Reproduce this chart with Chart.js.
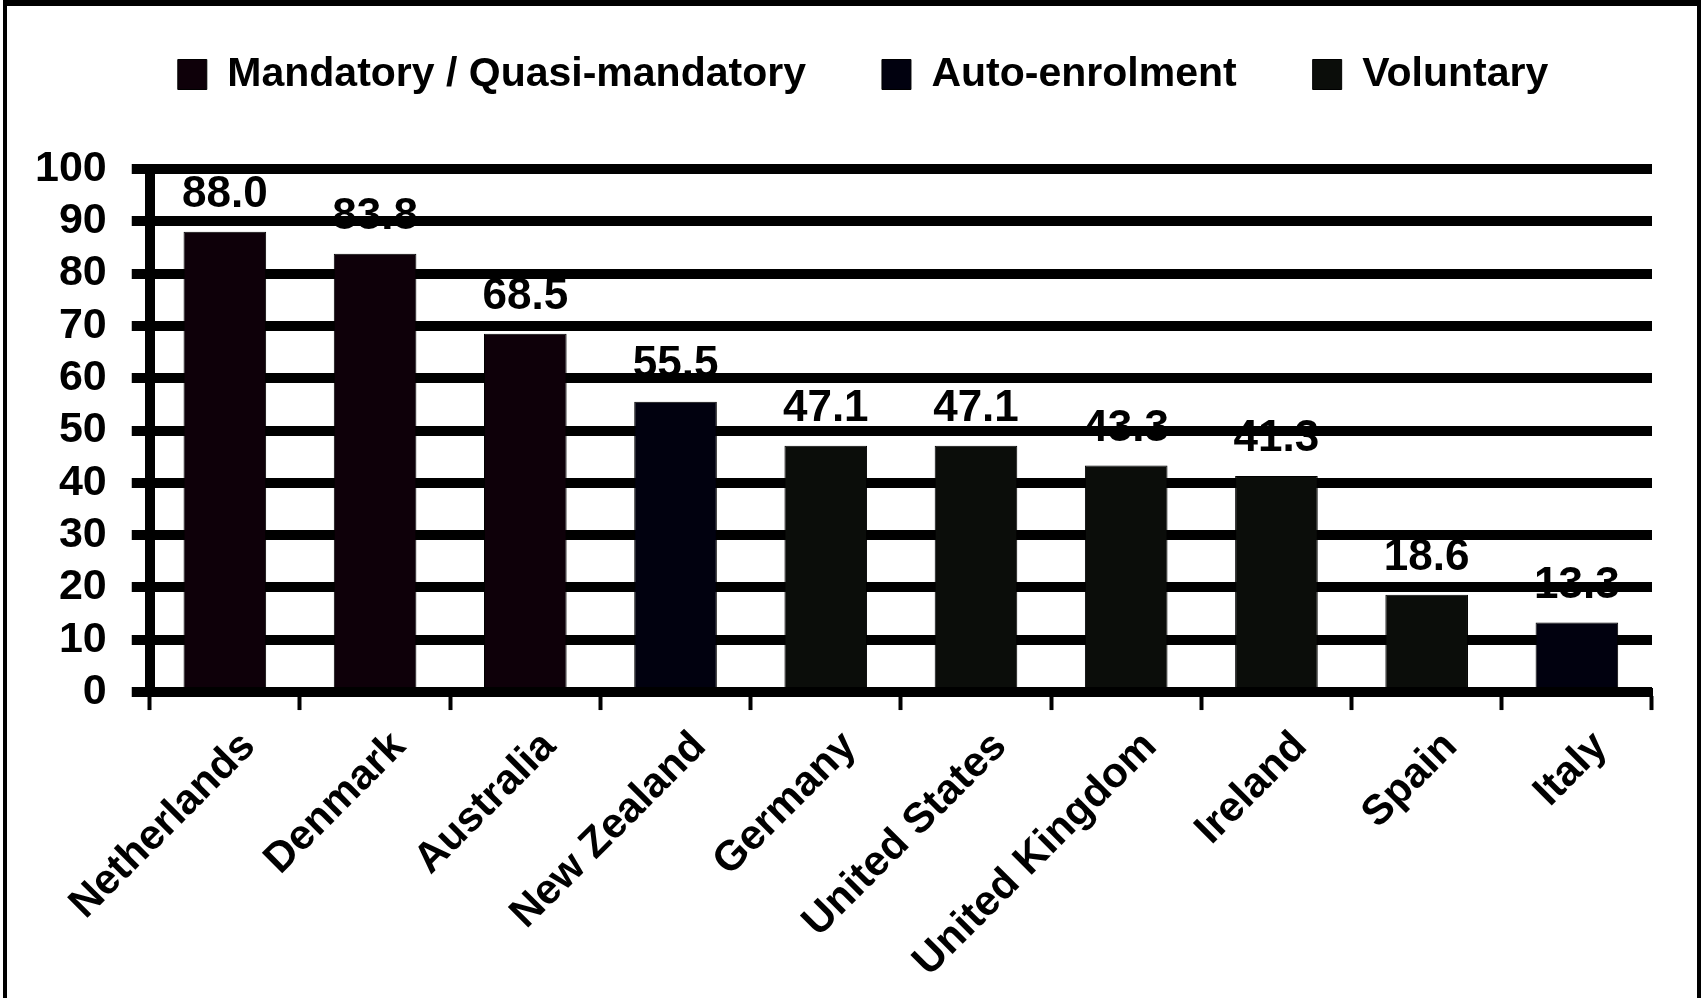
<!DOCTYPE html>
<html>
<head>
<meta charset="utf-8">
<title>Pension coverage by scheme type</title>
<script src="https://cdn.jsdelivr.net/npm/chart.js@4/dist/chart.umd.min.js"></script>
<style>
  html, body { margin: 0; padding: 0; background: #fff; }
  #wrap { position: relative; width: 1704px; height: 998px; overflow: hidden; }
  #coverage { position: absolute; left: 0; top: 0; }
  #frame {
    position: absolute; left: 3px; top: 0; right: 3px; bottom: -10px;
    border-top: 6px solid #000; border-left: 4px solid #000; border-right: 4px solid #000;
    pointer-events: none;
  }
</style>
</head>
<body>
<div id="wrap">
  <canvas id="coverage" width="1704" height="998"></canvas>
  <div id="frame"></div>
</div>
<script>
// coverage rate (% of working-age population) and the type of scheme in each country
const countries = ['Netherlands', 'Denmark', 'Australia', 'New Zealand', 'Germany',
  'United States', 'United Kingdom', 'Ireland', 'Spain', 'Italy'];
const coverage = [88.0, 83.8, 68.5, 55.5, 47.1, 47.1, 43.3, 41.3, 18.6, 13.3];
const scheme = ['mandatory', 'mandatory', 'mandatory', 'auto', 'voluntary',
  'voluntary', 'voluntary', 'voluntary', 'voluntary', 'auto'];

const schemeNames = ['Mandatory / Quasi-mandatory', 'Auto-enrolment', 'Voluntary'];
const schemeKeys = ['mandatory', 'auto', 'voluntary'];
const schemeColors = ['#0e0009', '#01010f', '#0b0d0a'];

const FONT = '"Liberation Sans", Arial, sans-serif';
Chart.defaults.font.family = FONT;
Chart.defaults.color = '#000';

// one dataset per scheme type, only filled where the country uses it
const datasets = schemeKeys.map((key, k) => ({
  label: schemeNames[k],
  data: coverage.map((v, i) => scheme[i] === key ? v : null),
  backgroundColor: schemeColors[k],
  borderColor: '#000',
  borderWidth: 1,
  grouped: false,
  barPercentage: 0.55,
  categoryPercentage: 1
}));

// value printed above each bar
const valueLabels = {
  id: 'valueLabels',
  afterDatasetsDraw(chart) {
    const ctx = chart.ctx;
    ctx.save();
    ctx.font = 'bold 44px ' + FONT;
    ctx.fillStyle = '#000';
    ctx.textAlign = 'center';
    ctx.textBaseline = 'bottom';
    chart.data.datasets.forEach((ds, d) => {
      chart.getDatasetMeta(d).data.forEach((bar, i) => {
        const v = ds.data[i];
        if (v == null) return;
        ctx.fillText(v.toFixed(1), bar.x, bar.y - 15);
      });
    });
    ctx.restore();
  }
};

// legend row sits a little right of the canvas centre
const legendNudge = {
  id: 'legendNudge',
  afterLayout(chart) {
    chart.legend.left += 32;
    chart.legend.right += 32;
  }
};

new Chart(document.getElementById('coverage'), {
  type: 'bar',
  data: { labels: countries, datasets: datasets },
  plugins: [valueLabels, legendNudge],
  options: {
    responsive: false,
    animation: false,
    layout: { padding: { top: -22, left: 10, right: 52, bottom: -1 } },
    plugins: {
      legend: {
        position: 'top',
        weight: 3000,
        labels: {
          font: { size: 41, weight: 'bold' },
          boxWidth: 29,
          boxHeight: 30,
          padding: 76
        }
      },
      // empty spacer between the legend and the plot
      title: {
        display: true,
        text: '',
        font: { size: 10 },
        padding: { top: 0, bottom: 52 }
      },
      tooltip: { enabled: false }
    },
    scales: {
      x: {
        grid: {
          offset: true,
          drawOnChartArea: false,
          drawTicks: true,
          tickLength: 18,
          tickWidth: 4,
          tickColor: '#000'
        },
        border: { display: true, color: '#000', width: 8 },
        ticks: {
          font: { size: 42, weight: 'bold' },
          color: '#000',
          minRotation: 45,
          maxRotation: 45,
          padding: 12,
          labelOffset: 24
        }
      },
      y: {
        min: 0,
        max: 100,
        grid: {
          color: '#000',
          lineWidth: 10,
          tickLength: 18
        },
        border: { display: true, color: '#000', width: 10 },
        ticks: {
          stepSize: 10,
          autoSkip: false,
          font: { size: 43, weight: 'bold' },
          color: '#000',
          padding: 25
        }
      }
    }
  }
});
</script>
</body>
</html>
